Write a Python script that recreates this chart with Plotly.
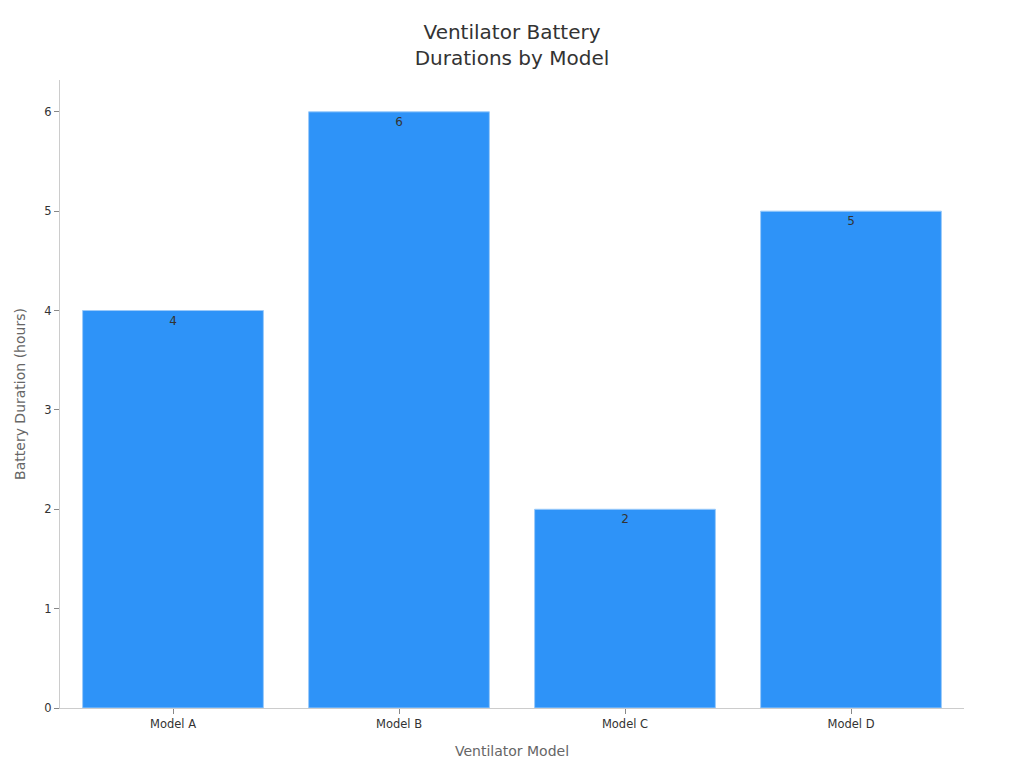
import plotly.graph_objects as go

models = ["Model A", "Model B", "Model C", "Model D"]
hours = [4, 6, 2, 5]
y_ticks = [0, 1, 2, 3, 4, 5, 6]

fig = go.Figure(go.Bar(
    x=models, y=hours,
    text=[str(h) for h in hours],
    textposition="inside", insidetextanchor="end",
    textfont=dict(color="#333333", size=12, family="DejaVu Sans"),
    marker=dict(color="#2E93F8", line=dict(color="#9CCBFA", width=1)),
    cliponaxis=False,
))

fig.update_layout(
    width=1024, height=768,
    paper_bgcolor="white", plot_bgcolor="white",
    font=dict(family="DejaVu Sans", color="#333333"),
    title=dict(text="Ventilator Battery<br>Durations by Model", x=0.4922, xanchor="center",
               y=0.959, yanchor="top", font=dict(size=20, color="#333333")),
    margin=dict(l=52, r=68, t=72, b=68),
    bargap=0.2,
    showlegend=False,
    xaxis=dict(title=dict(text="Ventilator Model", font=dict(size=14, color="#666666"), standoff=16),
               showline=True, linecolor="#CCCCCC", ticks="outside", ticklen=5, tickcolor="#888888",
               tickfont=dict(size=11.5, color="#333333"), showgrid=False),
    yaxis=dict(title=dict(text="Battery Duration (hours)", font=dict(size=14, color="#666666"), standoff=15),
               range=[0, 6.32], tickvals=y_ticks, showline=True, linecolor="#CCCCCC",
               ticks="outside", ticklen=5, tickcolor="#888888",
               tickfont=dict(size=11.5, color="#333333"), showgrid=False, zeroline=False),
)

fig.write_html("out.html")
